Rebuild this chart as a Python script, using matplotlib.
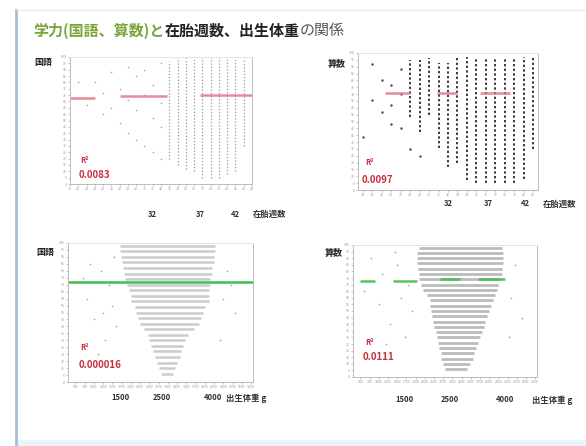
import matplotlib.pyplot as plt
from matplotlib.patches import Rectangle
from matplotlib.lines import Line2D

plt.rcParams['font.family'] = ['Noto Sans CJK JP', 'DejaVu Sans']

W, H = 586, 446

# ---- data ----
title_parts = ['学力(国語、算数)と', '在胎週数、出生体重', 'の関係']
panel_names = ['国語', '算数', '国語', '算数']
r2_values = ['0.0083', '0.0097', '0.000016', '0.0111']

# top-left: 国語 vs 在胎週数 (dense columns)
tl_weeks = [33, 34, 35, 36, 37, 38, 39, 40, 41, 42]
tl_top = [97, 99, 99, 100, 100, 100, 100, 100, 100, 99]
tl_bottom = [20, 15, 12, 10, 5, 5, 5, 8, 10, 30]
tl_sparse_x = [22, 23, 24, 25, 25, 26, 26, 27, 27, 28, 28, 28, 29, 29, 29, 30, 30, 30, 31, 31, 31, 32, 32, 32, 32]
tl_sparse_y = [80, 62, 80, 72, 55, 88, 60, 75, 48, 92, 66, 40, 85, 58, 35, 90, 70, 30, 78, 52, 25, 95, 64, 45, 20]
tl_mean_x0 = [21, 27, 36.7]
tl_mean_x1 = [24, 32.7, 43]
tl_mean_y = [68, 69, 70]

# top-right: 算数 vs 在胎週数
tr_weeks = [28, 29, 30, 31, 32, 33, 34, 35, 36, 37, 38, 39, 40, 41]
tr_top = [95, 95, 96, 93, 93, 96, 97, 97, 97, 97, 97, 97, 97, 96]
tr_bottom = [53, 42, 55, 31, 17, 20, 7, 5, 5, 5, 5, 5, 8, 30]
tr_sparse_x = [23, 24, 24, 25, 25, 26, 26, 26, 27, 27, 27, 28, 29]
tr_sparse_y = [39, 66, 92, 57, 80, 77, 48, 62, 70, 88, 45, 30, 25]
tr_mean_x0 = [25.3, 30.8, 35.4]
tr_mean_x1 = [28, 32.9, 38.5]
tr_mean_y = [71, 71, 71]

# bottom panels: 出生体重 (g) — score rows with weight extent
score_rows = [98, 94, 90, 86, 82, 78, 74, 70, 66, 62, 58, 54, 50, 46, 42, 38, 34, 30, 26, 22, 18, 14, 10, 6]
bl_wmin = [1700, 1700, 1720, 1750, 1780, 1800, 1850, 1900, 1950, 2000, 2000, 2100,
           2150, 2200, 2250, 2350, 2450, 2500, 2550, 2600, 2650, 2700, 2750, 2800]
bl_wmax = [4270, 4270, 4250, 4250, 4200, 4200, 4150, 4150, 4100, 4100, 4100, 4000,
           3950, 3900, 3850, 3700, 3550, 3450, 3400, 3350, 3320, 3250, 3200, 3150]
bl_sparse_x = [700, 800, 900, 1000, 1100, 1200, 1250, 1300, 1400, 1500, 1600, 4400, 4500, 4600, 4800, 1450, 1550, 4700]
bl_sparse_y = [75, 60, 85, 45, 20, 80, 50, 30, 70, 55, 40, 30, 60, 80, 50, 15, 90, 70]
bl_mean_x0 = [300]
bl_mean_x1 = [5300]
bl_mean_y = [72]

br_wmin = [2100, 2040, 2040, 2050, 2060, 2080, 2100, 2150, 2200, 2300, 2390, 2400,
           2420, 2450, 2480, 2500, 2550, 2580, 2600, 2650, 2680, 2700, 2750, 2800]
br_wmax = [4350, 4380, 4380, 4380, 4350, 4350, 4300, 4250, 4200, 4150, 4100, 4050,
           4000, 3950, 3900, 3850, 3800, 3750, 3700, 3650, 3600, 3550, 3480, 3400]
br_sparse_x = [600, 800, 1000, 1100, 1300, 1500, 1600, 1700, 1800, 1900, 4600, 4700, 4900, 1200, 1450, 4550]
br_sparse_y = [65, 90, 55, 78, 40, 85, 60, 30, 70, 50, 60, 85, 45, 25, 95, 30]
br_mean_x0 = [490, 1390, 2660, 3700]
br_mean_x1 = [900, 2040, 3210, 4430]
br_mean_y = [73, 73, 74, 74]

week_ticks = ['32', '37', '42']
weight_ticks = ['1500', '2500', '4000']
xnames = ['在胎週数', '在胎週数', '出生体重 g', '出生体重 g']

# ---- layout (pixels) ----
fig = plt.figure(figsize=(W / 100, H / 100), dpi=100)
fig.patch.set_facecolor('white')


def px_axes(x0, y0, x1, y1):
    return fig.add_axes([x0 / W, 1 - y1 / H, (x1 - x0) / W, (y1 - y0) / H])


def fx(x):
    return x / W


def fy(y):
    return 1 - y / H


# slide decorations
fig.add_artist(Line2D([fx(16), fx(16)], [fy(10), fy(446)], color='#a9bcd6', lw=2))
fig.add_artist(Line2D([fx(17), fx(586)], [fy(10), fy(10)], color='#ececec', lw=1))
fig.add_artist(Rectangle((fx(17), 0), 1, 6 / H, color='#eaf3fb', lw=0))

# title
renderer = fig.canvas.get_renderer()
tx = 33
title_colors = ['#7aa53a', '#222222', '#555555']
title_weights = ['bold', 'bold', 'normal']
for part, c, w in zip(title_parts, title_colors, title_weights):
    t = fig.text(fx(tx), fy(31), part, fontsize=10.8, color=c, fontweight=w, va='center', ha='left')
    bb = t.get_window_extent(renderer)
    tx += bb.width

axes_px = [(70, 57, 252, 184), (358, 53, 538, 190), (68, 243, 253, 382), (353, 245, 537, 377)]
axs = [px_axes(*b) for b in axes_px]

for ax in axs:
    ax.set_ylim(0, 100)
    ax.set_yticks(range(0, 101, 5))
    ax.tick_params(labelsize=2.5, colors='#999999', length=1.5, width=0.4, pad=1)
    for s in ax.spines.values():
        s.set_color('#bbbbbb')
        s.set_linewidth(0.7)
    ax.spines['top'].set_color('#e4e4e4')

# top-left
ax = axs[0]
ax.set_xlim(21, 43)
ax.set_xticks(range(21, 44))
ax.vlines(tl_weeks, tl_bottom, tl_top, colors='#9a9a9a', lw=0.9, linestyles=(0, (1, 1.6)))
ax.scatter(tl_sparse_x, tl_sparse_y, s=1.5, color='#aaaaaa', lw=0)
ax.hlines(tl_mean_y, tl_mean_x0, tl_mean_x1, colors='#e07888', lw=1.8, alpha=0.85)

# top-right
ax = axs[1]
ax.set_xlim(22.5, 41.5)
ax.set_xticks(range(23, 42))
ax.vlines(tr_weeks, tr_bottom, tr_top, colors='#3a3a3a', lw=1.4, linestyles=(0, (1.2, 1.2)))
ax.scatter(tr_sparse_x, tr_sparse_y, s=3, color='#444444', lw=0)
ax.hlines(tr_mean_y, tr_mean_x0, tr_mean_x1, colors='#e07888', lw=1.8, alpha=0.85)

# bottom-left
ax = axs[2]
ax.set_xlim(300, 5300)
ax.set_xticks(range(500, 5300, 250))
ax.hlines(score_rows, bl_wmin, bl_wmax, colors='#cccccc', lw=1.8)
ax.scatter(bl_sparse_x, bl_sparse_y, s=1.5, color='#aaaaaa', lw=0)
ax.hlines(bl_mean_y, bl_mean_x0, bl_mean_x1, colors='#3fbf4f', lw=1.8)

# bottom-right
ax = axs[3]
ax.set_xlim(300, 5300)
ax.set_xticks(range(500, 5300, 250))
ax.hlines(score_rows, br_wmin, br_wmax, colors='#bbbbbb', lw=2.0)
ax.scatter(br_sparse_x, br_sparse_y, s=1.5, color='#aaaaaa', lw=0)
ax.hlines(br_mean_y, br_mean_x0, br_mean_x1, colors='#3fbf4f', lw=1.8, alpha=0.9)

# R² annotations
r2_pos = [((0.055, 0.165), (0.045, 0.047)), ((0.04, 0.18), (0.02, 0.05)),
          ((0.065, 0.23), (0.055, 0.10)), ((0.065, 0.24), (0.055, 0.13))]
for ax, val, (p1, p2) in zip(axs, r2_values, r2_pos):
    ax.text(*p1, 'R²', transform=ax.transAxes, fontsize=5.5, color='#c83040', fontweight='bold')
    ax.text(*p2, val, transform=ax.transAxes, fontsize=7, color='#c83040', fontweight='bold')

# panel names
name_px = [(34, 62), (328, 64), (36, 253), (325, 253)]
for (x, y), name in zip(name_px, panel_names):
    fig.text(fx(x), fy(y), name, fontsize=6.5, fontweight='bold', color='#222222', va='center')

# hand-written x tick labels under each panel
tick_px = [[(152, 214), (200, 214), (235, 214)],
           [(448, 204), (488, 204), (525, 204)],
           [(120, 398), (162, 398), (213, 398)],
           [(405, 400), (450, 400), (505, 400)]]
tick_sets = [week_ticks, week_ticks, weight_ticks, weight_ticks]
name_x = [(253, 214), (543, 204), (226, 398), (532, 400)]
for pos, labels, (nx, ny), nm in zip(tick_px, tick_sets, name_x, xnames):
    for (x, y), lab in zip(pos, labels):
        fig.text(fx(x), fy(y), lab, fontsize=5.5, color='#333333', ha='center', va='center', fontweight='bold')
    fig.text(fx(nx), fy(ny), nm, fontsize=6, color='#333333', ha='left', va='center', fontweight='bold')

fig.savefig('out.png', dpi=100, facecolor='white')
